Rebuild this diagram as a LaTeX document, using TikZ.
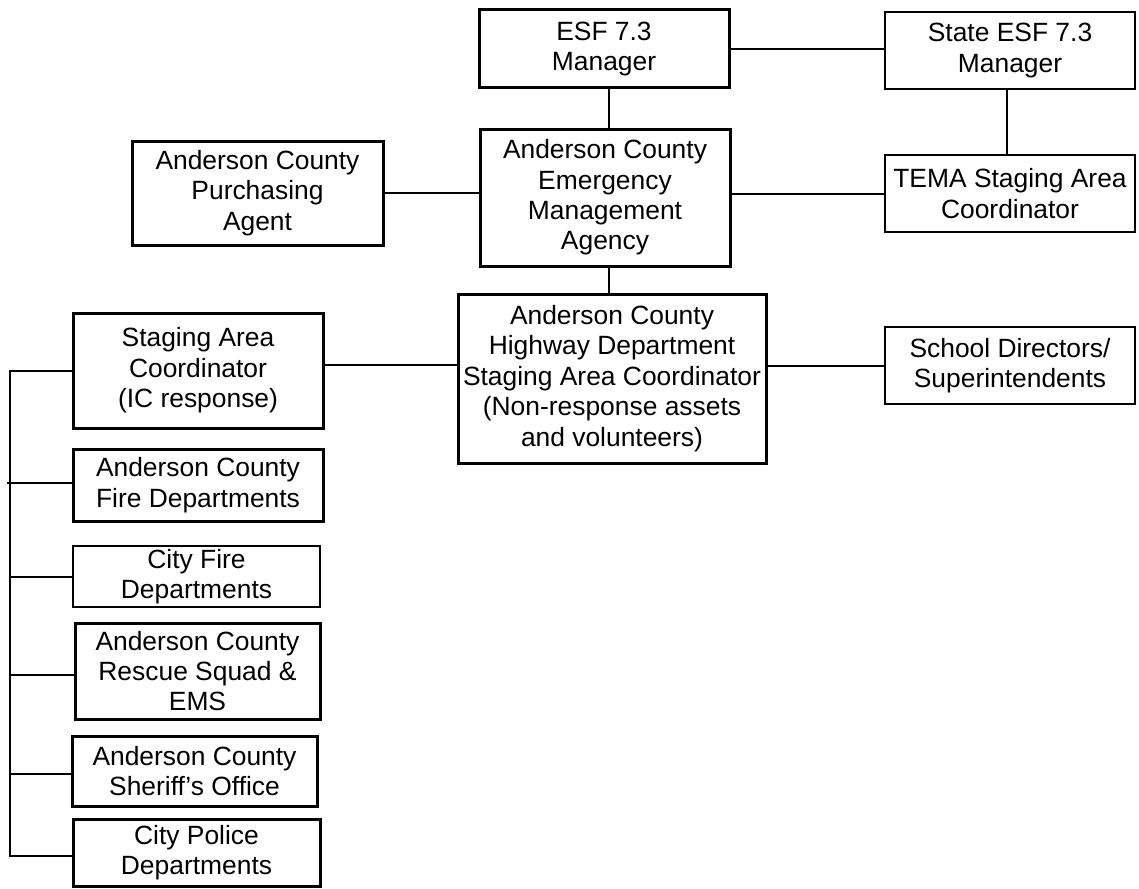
\documentclass[tikz,border=0pt]{standalone}
\usepackage{fontspec}
\setmainfont{Liberation Sans}
\begin{document}
\begin{tikzpicture}[x=1pt,y=-1pt,
  box/.style={draw, rectangle, inner sep=0pt, outer sep=0pt, align=center,
    font=\fontsize{26.4pt}{30.4pt}\selectfont},
  thickbox/.style={box, line width=3pt},
  thinbox/.style={box, line width=1.7pt},
  link/.style={line width=2pt}]
\useasboundingbox (0,0) rectangle (1139,888);

\node[thickbox, minimum width=250pt, minimum height=78pt] (esf) at (604,49) {ESF 7.3\\Manager};
\node[thinbox, minimum width=250pt, minimum height=77pt] (state) at (1010,50.5) {State ESF 7.3\\Manager};
\node[thickbox, minimum width=251pt, minimum height=104pt] (purch) at (257.5,193) {Anderson County\\Purchasing\\Agent};
\node[thickbox, minimum width=250pt, minimum height=137pt] (ema) at (605,197.5) {Anderson County\\Emergency\\Management\\Agency};
\node[thinbox, minimum width=250pt, minimum height=77pt] (tema) at (1010,193.5) {TEMA Staging Area\\Coordinator};
\node[thickbox, minimum width=250pt, minimum height=115pt] (staging) at (198,370.5) {Staging Area\\Coordinator\\(IC response)};
\node[thickbox, minimum width=308pt, minimum height=169pt] (highway) at (612,378.5) {Anderson County\\Highway Department\\Staging Area Coordinator\\(Non-response assets\\and volunteers)};
\node[thinbox, minimum width=250pt, minimum height=77pt] (school) at (1010,365.5) {School Directors/\\Superintendents};
\node[thickbox, minimum width=250pt, minimum height=72pt] (acfire) at (198,485) {Anderson County\\Fire Departments};
\node[box, line width=2pt, minimum width=247pt, minimum height=61pt] (cityfire) at (196.5,576.5) {City Fire\\Departments};
\node[thickbox, minimum width=245pt, minimum height=96pt] (rescue) at (197.5,671) {Anderson County\\Rescue Squad \&\\EMS};
\node[thickbox, minimum width=245pt, minimum height=70pt] (sheriff) at (194.5,771) {Anderson County\\Sheriff’s Office};
\node[thickbox, minimum width=247pt, minimum height=67pt] (police) at (196.5,852.5) {City Police\\Departments};

\coordinate (bus) at (10,0);

% top connectors
\draw[link] (esf.east) -- (esf.east -| state.west);
\draw[link] ([xshift=5pt]esf.south) -- ([xshift=5pt]esf.south |- ema.north);
\draw[link] ([xshift=-3pt]state.south) -- ([xshift=-3pt]state.south |- tema.north);
\draw[link] (purch.east) -- (purch.east -| ema.west);
\draw[link] (tema.west) -- (tema.west -| ema.east);
\draw[link] ([xshift=4pt]ema.south) -- ([xshift=4pt]ema.south |- highway.north);
\draw[link] ([yshift=5.5pt]staging.east) -- ([yshift=5.5pt]staging.east -| highway.west);
\draw[link] (school.west) -- (school.west -| highway.east);

% left bus
\draw[link] (staging.west) -- (staging.west -| bus) -- ([yshift=-3.5pt]police.west -| bus) -- ([yshift=-3.5pt]police.west);
\draw[link] ([yshift=2pt]acfire.west) -- ([yshift=2pt,xshift=-3pt]acfire.west -| bus);
\draw[link] (cityfire.west) -- (cityfire.west -| bus);
\draw[link] ([yshift=-4pt]rescue.west) -- ([yshift=-4pt]rescue.west -| bus);
\draw[link] ([yshift=-3pt]sheriff.west) -- ([yshift=-3pt]sheriff.west -| bus);
\end{tikzpicture}
\end{document}
